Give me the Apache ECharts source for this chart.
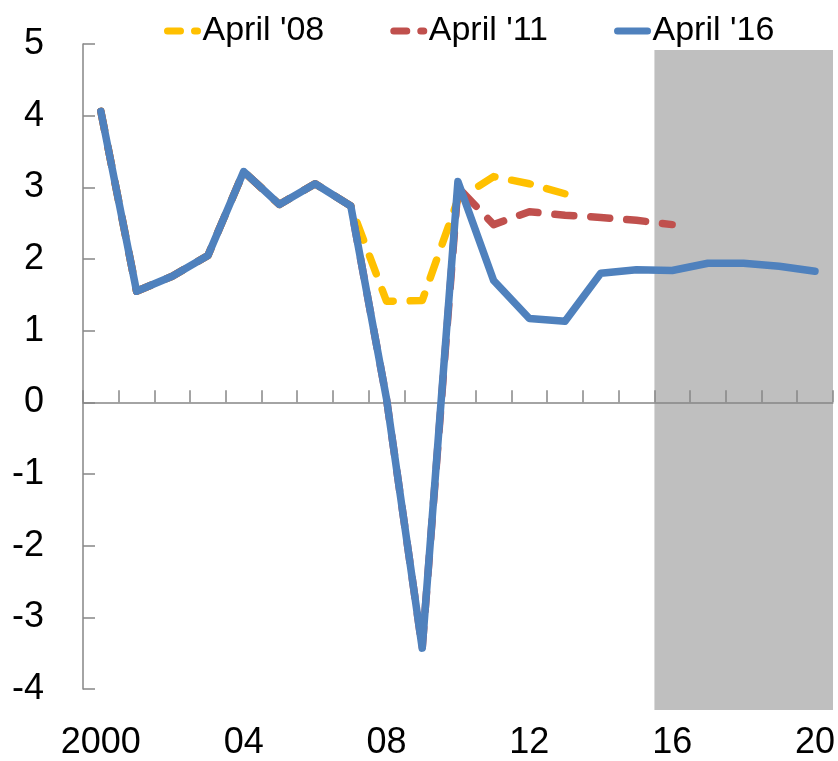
<!DOCTYPE html>
<html>
<head>
<meta charset="utf-8">
<script src="https://cdn.jsdelivr.net/npm/echarts@6/dist/echarts.min.js"></script>
<style>
  html, body { margin: 0; padding: 0; background: #fff; }
  #main { width: 838px; height: 761px; }
</style>
</head>
<body>
<div id="main"></div>
<script>
var years = ['2000', '2001', '2002', '2003', '2004', '2005', '2006', '2007', '2008', '2009', '2010',
  '2011', '2012', '2013', '2014', '2015', '2016', '2017', '2018', '2019', '2020'];
var xTickLabels = ['2000', '04', '08', '12', '16', '20'];
var yTickLabels = ['-4', '-3', '-2', '-1', '0', '1', '2', '3', '4', '5'];

var april08 = [4.06, 1.55, 1.76, 2.05, 3.22, 2.76, 3.05, 2.74, 1.41, 1.42, 2.83,
  3.15, 3.05, 2.91, '-', '-', '-', '-', '-', '-', '-'];
var april11 = [4.06, 1.55, 1.76, 2.05, 3.22, 2.76, 3.05, 2.74, 0.05, -3.43, 3.0,
  2.48, 2.66, 2.61, 2.58, 2.54, 2.48, '-', '-', '-', '-'];
var april16 = [4.06, 1.55, 1.76, 2.05, 3.22, 2.76, 3.05, 2.74, 0.05, -3.43, 3.08,
  1.70, 1.17, 1.13, 1.80, 1.85, 1.84, 1.94, 1.94, 1.90, 1.83];

// projection years, drawn as grey band
var shadedYears = ['2016', '2017', '2018', '2019', '2020'];

// band edges sit on year boundaries
var firstYear = +years[0], lastYear = +years[years.length - 1];
var shadeData = [
  [+shadedYears[0] - 0.5, 1],
  [+shadedYears[shadedYears.length - 1] + 0.5, 1]
];

var font = 'Liberation Sans, Arial, sans-serif';
var axisGrey = '#868686';
var shadeGrey = '#bfbfbf';
var legendDash = {type: [13, 14]};

var option = {
  backgroundColor: '#fff',
  animation: false,
  legend: {
    left: 159,
    top: 9,
    itemGap: 66,
    itemWidth: 30,
    itemHeight: 12,
    itemStyle: {opacity: 0},
    lineStyle: {width: 7},
    textStyle: {fontFamily: font, fontSize: 34, color: '#000'},
    data: [
      {name: "April '08", lineStyle: legendDash},
      {name: "April '11", lineStyle: legendDash},
      {name: "April '16"}
    ]
  },
  grid: [
    {left: 83, right: 5, top: 44, bottom: 70},
    {left: 83, right: 5, top: 50, bottom: 51}
  ],
  xAxis: [
    {
      type: 'category',
      data: years,
      boundaryGap: true,
      axisLine: {onZero: true, lineStyle: {color: axisGrey, width: 1.5}},
      axisTick: {show: true, inside: true, length: 12, interval: 0, lineStyle: {color: axisGrey, width: 1.5}},
      axisLabel: {show: false},
      splitLine: {show: false},
      z: 5
    },
    {
      type: 'category',
      data: years,
      position: 'bottom',
      axisLine: {show: false, onZero: false},
      axisTick: {show: false},
      axisLabel: {
        interval: 3,
        margin: 36,
        fontFamily: font,
        fontSize: 36,
        color: '#000',
        formatter: function (v, i) { return xTickLabels[i / 4]; }
      },
      splitLine: {show: false}
    },
    {
      type: 'value',
      gridIndex: 1,
      min: firstYear - 0.5,
      max: lastYear + 0.5,
      show: false
    }
  ],
  yAxis: [
    {
      type: 'value',
      min: -4,
      max: 5,
      interval: 1,
      axisLine: {show: true, lineStyle: {color: axisGrey, width: 1.5}},
      axisTick: {show: true, inside: true, length: 12, lineStyle: {color: axisGrey, width: 1.5}},
      axisLabel: {
        margin: 39,
        fontFamily: font,
        fontSize: 36,
        color: '#000',
        formatter: function (v) { return yTickLabels[v + 4]; }
      },
      splitLine: {show: false},
      z: 5
    },
    {
      type: 'value',
      gridIndex: 1,
      min: 0,
      max: 1,
      show: false
    }
  ],
  series: [
    {
      name: 'shade',
      type: 'line',
      xAxisIndex: 2,
      yAxisIndex: 1,
      data: shadeData,
      symbol: 'none',
      lineStyle: {width: 0},
      areaStyle: {color: shadeGrey, opacity: 1},
      silent: true,
      z: -1
    },
    {
      name: "April '08",
      type: 'line',
      data: april08,
      symbol: 'none',
      lineStyle: {color: '#ffc000', width: 7.5, type: [19, 17], cap: 'round', join: 'round'},
      itemStyle: {color: '#ffc000'},
      z: 3
    },
    {
      name: "April '11",
      type: 'line',
      data: april11,
      symbol: 'none',
      lineStyle: {color: '#c0504d', width: 7.5, type: [19, 17], cap: 'round', join: 'round'},
      itemStyle: {color: '#c0504d'},
      z: 4
    },
    {
      name: "April '16",
      type: 'line',
      data: april16,
      symbol: 'none',
      lineStyle: {color: '#4f81bd', width: 7.5, cap: 'round', join: 'round'},
      itemStyle: {color: '#4f81bd'},
      z: 5
    }
  ]
};

var myChart = echarts.init(document.getElementById('main'));
myChart.setOption(option);
</script>
</body>
</html>
